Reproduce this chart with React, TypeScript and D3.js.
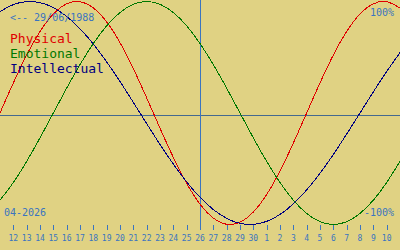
import React from "react";
import * as d3 from "d3";

// Days shown (April 2026 day numbers; >30 continue into May)
const days: number[] = Array.from({ length: 31 }, (_, i) => 11 + i);
const tickDays: number[] = days.slice(1, 30);
const tickLabels: string[] = [
  "12","13","14","15","16","17","18","19","20","21","22","23","24","25","26",
  "27","28","29","30","1","2","3","4","5","6","7","8","9","10",
];
const todayDay = 26;
const birthLabel = "<-- 29/06/1988";
const monthLabel = "04-2026";

// Daily values (-1..1) read for days 11 Apr .. 11 May
const physical: number[] = [
  0, 0.27, 0.52, 0.731, 0.888, 0.979, 0.998, 0.942, 0.817, 0.631, 0.398,
  0.136, -0.136, -0.398, -0.631, -0.817, -0.942, -0.998, -0.979, -0.888, -0.731,
  -0.52, -0.27, 0, 0.27, 0.52, 0.731, 0.888, 0.979, 0.998, 0.942,
];
const emotional: number[] = [
  -0.782, -0.623, -0.434, -0.223, 0, 0.223, 0.434, 0.623, 0.782, 0.901, 0.975,
  1, 0.975, 0.901, 0.782, 0.623, 0.434, 0.223, 0, -0.223, -0.434,
  -0.623, -0.782, -0.901, -0.975, -1, -0.975, -0.901, -0.782, -0.623, -0.434,
];
const intellectual: number[] = [
  0.91, 0.972, 0.999, 0.99, 0.945, 0.866, 0.756, 0.618, 0.458, 0.282, 0.095,
  -0.095, -0.282, -0.458, -0.618, -0.756, -0.866, -0.945, -0.99, -0.999, -0.972,
  -0.91, -0.815, -0.69, -0.541, -0.372, -0.189, 0, 0.189, 0.372, 0.541,
];

const seriesNames = ["Physical", "Emotional", "Intellectual"];
const seriesColors = ["#e00000", "#007800", "#000080"];

export default function App() {
  const W = 400;
  const H = 250;
  const x = d3.scaleLinear().domain([11, 41]).range([0, 400]);
  const y = d3.scaleLinear().domain([-1, 1]).range([224.5, 1.5]);
  const zeroY = 115.5;
  const line = d3
    .line<number>()
    .x((_, i) => x(days[i]))
    .y((v) => y(v))
    .curve(d3.curveNatural);
  const series = [physical, emotional, intellectual];
  const blue = "#3a74c0";
  const mono = "'DejaVu Sans Mono', 'Liberation Mono', monospace";
  const todayX = Math.round(x(todayDay)) + 0.5;

  return (
    <svg
      width={W}
      height={H}
      style={{ position: "fixed", left: 0, top: 0, display: "block" }}
    >
      <rect width={W} height={H} fill="#e0d283" />
      <line x1={0} x2={W} y1={zeroY} y2={zeroY} stroke="#44698f" strokeWidth={1} />
      <line x1={todayX} x2={todayX} y1={0} y2={230} stroke={blue} strokeWidth={1} />
      {tickDays.map((d, i) => {
        const tx = Math.round(x(d)) + 0.5;
        return (
          <g key={d}>
            <line x1={tx} x2={tx} y1={225} y2={230} stroke={blue} strokeWidth={1} />
            <text
              x={x(d)}
              y={241}
              textAnchor="middle"
              fontFamily={mono}
              fontSize={8}
              fill={blue}
            >
              {tickLabels[i]}
            </text>
          </g>
        );
      })}
      {series.map((s, i) => (
        <path
          key={i}
          d={line(s) || ""}
          fill="none"
          stroke={seriesColors[i]}
          strokeWidth={1}
          shapeRendering="crispEdges"
        />
      ))}
      <text x={10} y={21} fontFamily={mono} fontSize={10} fill={blue}>
        {birthLabel}
      </text>
      {seriesNames.map((n, i) => (
        <text
          key={n}
          x={10}
          y={43 + i * 15}
          fontFamily={mono}
          fontSize={13}
          fill={seriesColors[i]}
        >
          {n}
        </text>
      ))}
      <text x={394} y={16} textAnchor="end" fontFamily={mono} fontSize={10} fill={blue}>
        100%
      </text>
      <text x={394} y={216} textAnchor="end" fontFamily={mono} fontSize={10} fill={blue}>
        -100%
      </text>
      <text x={4} y={216} fontFamily={mono} fontSize={10} fill={blue}>
        {monthLabel}
      </text>
    </svg>
  );
}
